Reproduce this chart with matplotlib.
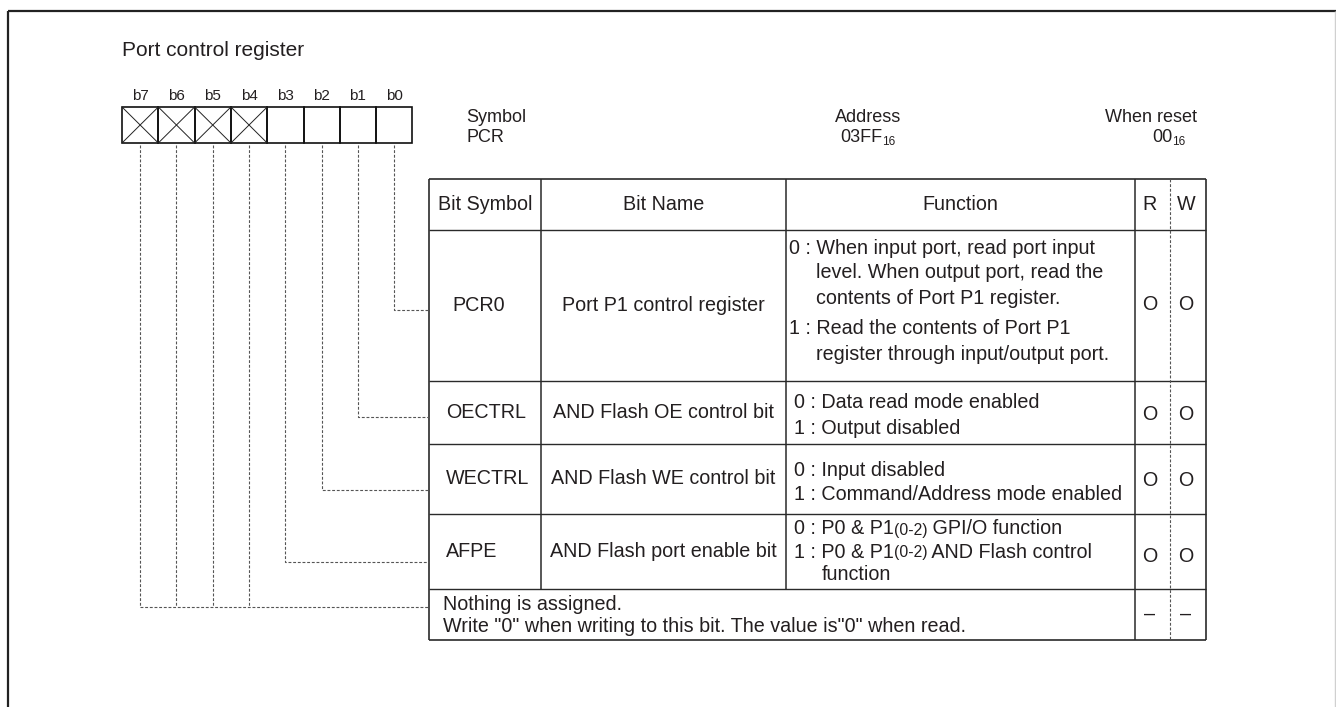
import matplotlib
matplotlib.use("Agg")
import matplotlib.pyplot as plt

plt.rcParams['font.family'] = ['Liberation Sans', 'DejaVu Sans']

# ---------------- data ----------------
title = "Port control register"
bit_labels = ["b7", "b6", "b5", "b4", "b3", "b2", "b1", "b0"]
reserved_bits = ["b7", "b6", "b5", "b4"]
symbol_name = "PCR"
address_main, address_sub = "03FF", "16"
reset_main, reset_sub = "00", "16"
header_labels = ["Bit Symbol", "Bit Name", "Function", "R", "W"]
row_bits = ["b0", "b1", "b2", "b3"]
bit_symbols = ["PCR0", "OECTRL", "WECTRL", "AFPE"]
bit_names = ["Port P1 control register", "AND Flash OE control bit",
             "AND Flash WE control bit", "AND Flash port enable bit"]
functions = [
    [["0 : When input port, read port input", "level. When output port, read the",
      "contents of Port P1 register."],
     ["1 : Read the contents of Port P1", "register through input/output port."]],
    [["0 : Data read mode enabled"], ["1 : Output disabled"]],
    [["0 : Input disabled"], ["1 : Command/Address mode enabled"]],
    [["0 : P0 & P1", "(0-2)", " GPI/O function"],
     ["1 : P0 & P1", "(0-2)", " AND Flash control", "function"]],
]
read_marks = ["O", "O", "O", "O"]
write_marks = ["O", "O", "O", "O"]
nothing_lines = ["Nothing is assigned.",
                 'Write "0" when writing to this bit. The value is"0" when read.']
nothing_rw = ["–", "–"]

# ---------------- layout ----------------
W, H = 1336, 707
fig = plt.figure(figsize=(W / 100, H / 100), dpi=100)
ax = fig.add_axes([0, 0, 1, 1])
ax.set_xlim(0, W)
ax.set_ylim(H, 0)
ax.axis("off")
fig.canvas.draw()
renderer = fig.canvas.get_renderer()

TC = "#231f20"
FS = 14.2
LC = "#2a2a2a"


def txt(x, y, s, size=FS, ha="left", va="center", **kw):
    return ax.text(x, y, s, fontsize=size, ha=ha, va=va, color=TC, **kw)


def right_edge(t):
    bb = t.get_window_extent(renderer)
    return ax.transData.inverted().transform((bb.x1, bb.y0))[0]


def width_of(s, size=FS):
    t = ax.text(0, 0, s, fontsize=size)
    bb = t.get_window_extent(renderer)
    t.remove()
    p0 = ax.transData.inverted().transform((bb.x0, bb.y0))[0]
    p1 = ax.transData.inverted().transform((bb.x1, bb.y0))[0]
    return p1 - p0


def line(xs, ys, lw=1.1, color=LC, dashed=False):
    kw = dict(color=color, lw=lw, solid_capstyle="butt")
    if dashed:
        kw["dashes"] = (2.6, 1.6)
        kw["color"] = "#555555"
        kw["lw"] = 0.8
    ax.plot(xs, ys, **kw)


# outer frame
line([8, W], [11, 11], lw=1.6, color="#222222")
line([8, 8], [11, H], lw=1.6, color="#222222")
line([W - 1.5, W - 1.5], [11, H], lw=1.0, color="#d0d0d0")

# title
txt(122, 50, title, size=15)

# register cells
cell_x0, cell_w, cell_y0, cell_y1 = 122, 36.3, 107, 143
for i, lab in enumerate(bit_labels):
    x0 = cell_x0 + i * cell_w
    x1 = x0 + cell_w
    txt((x0 + x1) / 2, 96, lab, size=11, ha="center")
    ax.add_patch(plt.Rectangle((x0, cell_y0), cell_w, cell_y1 - cell_y0,
                               fill=False, ec="#111111", lw=1.2))
    if lab in reserved_bits:
        line([x0, x1], [cell_y0, cell_y1], lw=0.7, color="#222222")
        line([x0, x1], [cell_y1, cell_y0], lw=0.7, color="#222222")

# symbol / address / reset
txt(466, 118, "Symbol", size=13)
txt(466, 137, symbol_name, size=13)
txt(868, 118, "Address", size=13, ha="center")
t = txt(840, 137, address_main, size=13)
txt(right_edge(t), 142, address_sub, size=8.5)
txt(1197, 118, "When reset", size=13, ha="right")
t = txt(1152, 137, reset_main, size=13)
txt(right_edge(t), 142, reset_sub, size=8.5)

# table geometry
tx = [429, 541, 786, 1135, 1170, 1206]
ty = [179, 230, 381, 444, 514, 589, 640]

# horizontal lines
for y in ty:
    line([tx[0], tx[-1]], [y, y], lw=1.2 if y in (ty[0], ty[-1]) else 1.0)
# vertical lines
line([tx[0], tx[0]], [ty[0], ty[-1]], lw=1.2)
line([tx[-1], tx[-1]], [ty[0], ty[-1]], lw=1.2)
for x in tx[1:3]:
    line([x, x], [ty[0], ty[-2]])
line([tx[3], tx[3]], [ty[0], ty[-1]])
line([tx[4], tx[4]], [ty[0], ty[-1]], dashed=True)

# header
hy = (ty[0] + ty[1]) / 2
hx = [(tx[0] + tx[1]) / 2, (tx[1] + tx[2]) / 2, (tx[2] + tx[3]) / 2, 1150, 1186]
for x, lab in zip(hx, header_labels):
    txt(x, hy, lab, ha="center")

# rows
sym_x = [452, 446, 446, 446]
func_x = [789, 794, 794, 794]
func_y0 = [248, 403, 470, 529]
func_sp = [25, 25, 25, 23]
item_gap = [6, 0, 0, 0]
mark_y = [305, 414, 481, 556]
indent = width_of("0 : ")
cell_pos = {lab: cell_x0 + (i + 0.5) * cell_w for i, lab in enumerate(bit_labels)}

for r in range(len(bit_symbols)):
    y0, y1 = ty[r + 1], ty[r + 2]
    cy = (y0 + y1) / 2
    txt(sym_x[r], cy, bit_symbols[r])
    txt(hx[1], cy, bit_names[r], ha="center")
    y = func_y0[r]
    for item in functions[r]:
        if "(0-2)" in item:
            t = txt(func_x[r], y, item[0])
            t2 = txt(right_edge(t), y + 1, item[1], size=FS * 0.8)
            txt(right_edge(t2), y, item[2])
            rest = item[3:]
        else:
            txt(func_x[r], y, item[0])
            rest = item[1:]
        for extra in rest:
            y += func_sp[r]
            txt(func_x[r] + indent, y, extra)
        y += func_sp[r] + item_gap[r]
    txt(1150, mark_y[r], read_marks[r], ha="center")
    txt(1186, mark_y[r], write_marks[r], ha="center")
    # connector from bit cell
    bx = cell_pos[row_bits[r]]
    conn_y = [310, 417, 490, 562][r]
    line([bx, bx, tx[0]], [cell_y1 + 2, conn_y, conn_y], dashed=True)

# reserved bits row
ny0, ny1 = ty[-2], ty[-1]
txt(443, 604, nothing_lines[0])
txt(443, 627, nothing_lines[1])
txt(1150, (ny0 + ny1) / 2, nothing_rw[0], ha="center")
txt(1186, (ny0 + ny1) / 2, nothing_rw[1], ha="center")
res_y = 607
xs_res = [cell_pos[b] for b in reserved_bits]
for bx in xs_res:
    line([bx, bx], [cell_y1 + 2, res_y], dashed=True)
line([min(xs_res), tx[0]], [res_y, res_y], dashed=True)

fig.savefig("out.png", dpi=100, facecolor="white")
